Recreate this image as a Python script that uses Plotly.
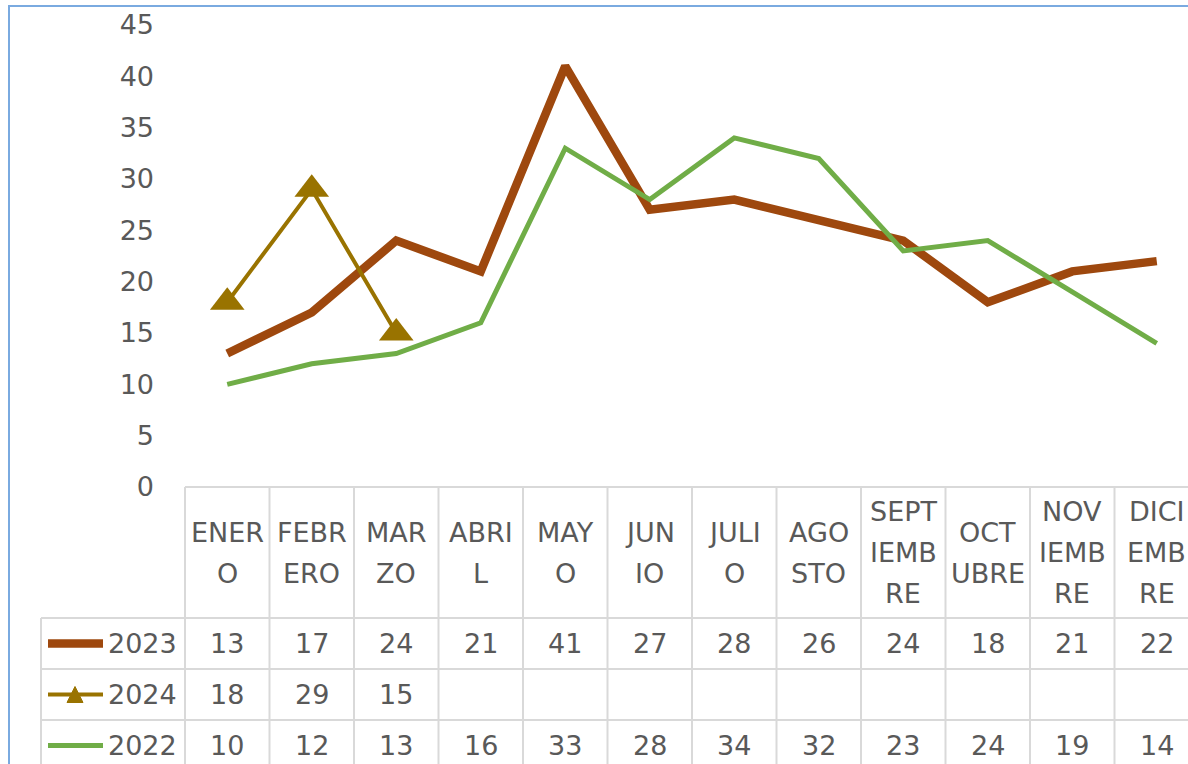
import plotly.graph_objects as go

# --- data ---
months = ["ENERO", "FEBRERO", "MARZO", "ABRIL", "MAYO", "JUNIO", "JULIO",
          "AGOSTO", "SEPTIEMBRE", "OCTUBRE", "NOVIEMBRE", "DICIEMBRE"]
month_labels = ["ENER\nO", "FEBR\nERO", "MAR\nZO", "ABRI\nL", "MAY\nO", "JUN\nIO",
                "JULI\nO", "AGO\nSTO", "SEPT\nIEMB\nRE", "OCT\nUBRE", "NOV\nIEMB\nRE",
                "DICI\nEMB\nRE"]
y2023 = [13, 17, 24, 21, 41, 27, 28, 26, 24, 18, 21, 22]
y2024 = [18, 29, 15]
y2022 = [10, 12, 13, 16, 33, 28, 34, 32, 23, 24, 19, 14]
y_ticks = [0, 5, 10, 15, 20, 25, 30, 35, 40, 45]

series = [
    ("2023", y2023, "#9E480E", 8.5, None),
    ("2024", y2024, "#997300", 4, "triangle-up"),
    ("2022", y2022, "#70AD47", 5, None),
]

# --- layout constants (pixels) ---
W, H = 1188, 764
L, R, T, B = 185, 1188, 25, 487
COLW = 84.5
FONT = "DejaVu Sans"
TXT = "#595959"
GRID = "#D9D9D9"


def px(x):
    return (x - L) / (R - L)


def py(y):
    return (B - y) / (B - T)


fig = go.Figure()
xs = list(range(len(months)))
for name, vals, color, width, marker in series:
    fig.add_trace(go.Scatter(
        x=xs[:len(vals)], y=vals, name=name,
        mode="lines+markers" if marker else "lines",
        line=dict(color=color, width=width),
        marker=dict(symbol=marker or "circle", size=30, color=color),
        cliponaxis=False,
    ))

shapes = []
# chart border
shapes.append(dict(type="rect", xref="paper", yref="paper",
                   x0=px(9), x1=px(1300), y0=py(6), y1=py(900),
                   line=dict(color="#7AAAE0", width=2), layer="below"))
# table grid
line = dict(color=GRID, width=2)
shapes.append(dict(type="line", xref="paper", yref="paper",
                   x0=px(L), x1=px(1300), y0=py(B), y1=py(B), line=line))
row_tops = [618, 669, 720]
for yy in row_tops:
    shapes.append(dict(type="line", xref="paper", yref="paper",
                       x0=px(41), x1=px(1300), y0=py(yy), y1=py(yy), line=line))
shapes.append(dict(type="line", xref="paper", yref="paper",
                   x0=px(41), x1=px(41), y0=py(618), y1=py(800), line=line))
for i in range(len(months) + 1):
    xx = L + COLW * i
    shapes.append(dict(type="line", xref="paper", yref="paper",
                       x0=px(xx), x1=px(xx), y0=py(B), y1=py(800), line=line))

annotations = []
# header labels
line_gap = 41
for i, lab in enumerate(month_labels):
    parts = lab.split("\n")
    center = (B + 618) / 2
    start = center - line_gap * (len(parts) - 1) / 2
    for k, p in enumerate(parts):
        annotations.append(dict(x=i, xref="x", y=py(start + k * line_gap), yref="paper",
                                text=p, showarrow=False, xanchor="center", yanchor="middle",
                                font=dict(family=FONT, size=27, color=TXT)))

# data rows with legend keys
for r, (name, vals, color, width, marker) in enumerate(series):
    yc = row_tops[r] + 25.5
    shapes.append(dict(type="line", xref="paper", yref="paper",
                       x0=px(48), x1=px(103), y0=py(yc), y1=py(yc),
                       line=dict(color=color, width=width)))
    if marker:
        shapes.append(dict(type="path", xref="paper", yref="paper",
                           path="M {} {} L {} {} L {} {} Z".format(
                               px(67), py(yc + 8), px(83), py(yc + 8), px(75), py(yc - 8)),
                           fillcolor=color, line=dict(color=color, width=1)))
    annotations.append(dict(x=px(106), xref="paper", y=py(yc), yref="paper",
                            text=name, showarrow=False, xanchor="left", yanchor="middle",
                            font=dict(family=FONT, size=27, color=TXT)))
    for i, v in enumerate(vals):
        annotations.append(dict(x=i, xref="x", y=py(yc), yref="paper",
                                text=str(v), showarrow=False, xanchor="center",
                                yanchor="middle",
                                font=dict(family=FONT, size=27, color=TXT)))

fig.update_layout(
    width=W, height=H,
    margin=dict(l=L, r=W - R, t=T, b=H - B, pad=0),
    paper_bgcolor="white", plot_bgcolor="white",
    showlegend=False,
    shapes=shapes, annotations=annotations,
    xaxis=dict(range=[-0.5, -0.5 + (R - L) / COLW], showticklabels=False,
               showgrid=False, zeroline=False, showline=False, ticks=""),
    yaxis=dict(range=[0, 45], tickvals=y_ticks, showgrid=False, zeroline=False,
               showline=False, ticks="", ticklabelstandoff=30,
               tickfont=dict(family=FONT, size=27, color=TXT)),
)

# page body has a default 8px margin; drop it so the figure fills the window
fig.write_html("out.html", config={"displayModeBar": False},
               post_script="document.body.style.margin='0';document.body.style.overflow='hidden';")
